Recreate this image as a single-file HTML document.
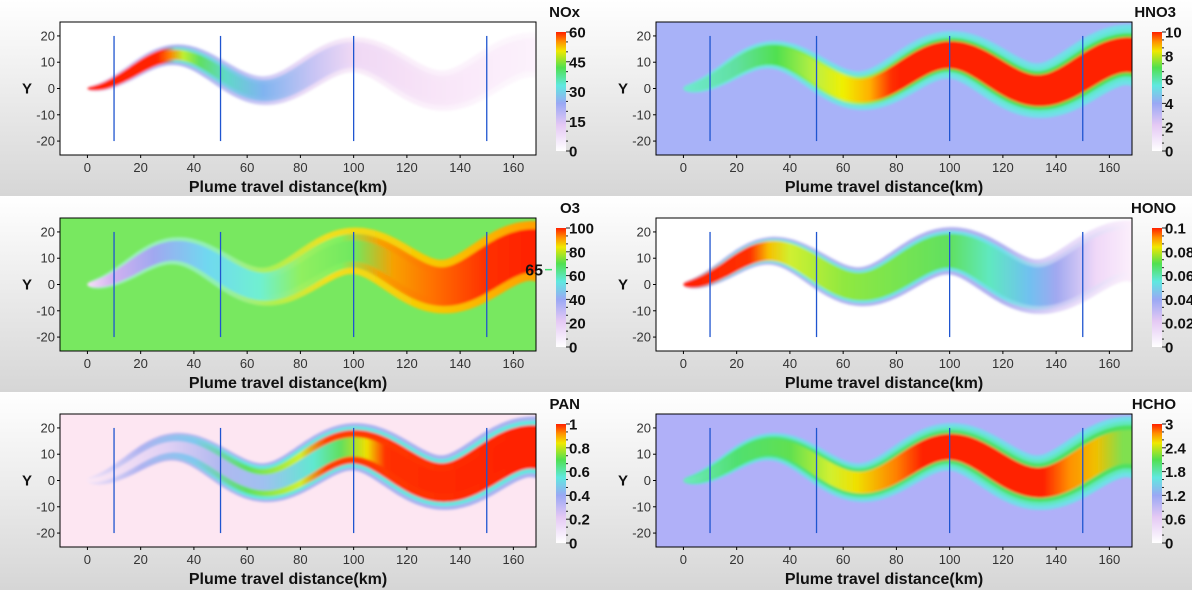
<!DOCTYPE html>
<html><head><meta charset="utf-8"><style>
html,body{margin:0;padding:0;background:#fff;}
svg{display:block;}
text{font-family:"Liberation Sans",sans-serif;}
</style></head><body>
<div id="c"></div>
<script>
const L=60,W=476,T=22,H=133;
function px(x){return L+(x+10.3)/178.8*W;}
function py(y){return T+(25.3-y)/50.6*H;}
function cl(x){let c=6+6.8*Math.sin(2*Math.PI*(x-16.25)/67);if(x<16)c+=(1-x/16)*0.8;return c;}
const P=[
{ox:0,oy:0,name:'NOx',lab:['60','45','30','15','0'],bg:'#ffffff',ws:0.72,layers:[
 {f:1.15,s:[[0,'#f0e0f8'],[20,'#c8c0f4'],[33,'#a8b0f0'],[60,'#c0c0f4'],[80,'#e8d8f6'],[100,'#f8eaf8'],[140,'#fcf2fc'],[168,'#fdf8fd']]},
 {f:0.85,s:[[0,'#ff2000'],[28,'#ff3000'],[33,'#70e0d0'],[45,'#70d8e0'],[66,'#88b8f0'],[85,'#c8c4f4'],[100,'#f0daf6'],[130,'#f8e6f8'],[168,'#fcf2fc']]},
 {f:0.55,s:[[0,'#ff2000'],[26,'#ff2000'],[31,'#ff8000'],[36,'#c0f030'],[42,'#60e060'],[52,'#60d8c8'],[66,'#80b4f0'],[85,'#c8c4f4'],[100,'#f0d8f4'],[130,'#f8e4f8'],[168,'#fcf2fc']]}]},
{ox:596,oy:0,name:'HNO3',lab:['10','8','6','4','2','0'],bg:'#a8b2f8',ws:1,layers:[
 {f:1.12,s:[[0,'#80d8f0'],[168,'#70e0e8']]},
 {f:0.95,s:[[0,'#70e8d0'],[168,'#60e8d0']]},
 {f:0.8,s:[[0,'#70e8d0'],[20,'#60e0a0'],[35,'#50e050'],[50,'#a0f040'],[60,'#d0f030'],[75,'#80e040'],[85,'#50e050'],[168,'#50e050']]},
 {f:0.65,s:[[0,'#70e8d0'],[20,'#60e0a0'],[35,'#50e050'],[50,'#c0f040'],[60,'#f0f000'],[70,'#ffb000'],[78,'#ff3000'],[82,'#ff2000'],[168,'#ff2000']]}]},
{ox:0,oy:196,name:'O3',lab:['100','80','60','40','20','0'],bg:'#78e860',ws:1,layers:[
 {f:1.1,s:[[0,'#a0f0c0'],[50,'#90f0b0'],[70,'#b0f050'],[90,'#f0e020'],[130,'#f8c800'],[168,'#ffa000']]},
 {f:0.8,s:[[0,'#f8e0f8'],[10,'#d0b0f0'],[25,'#a0a8f0'],[45,'#70d8f0'],[65,'#70f0d0'],[80,'#a0f060'],[95,'#80f060'],[110,'#f8a000'],[130,'#ff7000'],[150,'#ff3000'],[168,'#ff2000']]},
 {f:0.5,s:[[0,'#f8e0f8'],[10,'#d0b0f0'],[25,'#a0a8f0'],[45,'#70d8f0'],[65,'#70f0d0'],[80,'#90f060'],[100,'#70e860'],[115,'#f8a000'],[130,'#ff7000'],[150,'#ff3000'],[168,'#ff2000']]}]},
{ox:596,oy:196,name:'HONO',lab:['0.1','0.08','0.06','0.04','0.02','0'],bg:'#ffffff',ws:1,layers:[
 {f:1.12,s:[[0,'#e0d0f4'],[15,'#b0b0f0'],[120,'#b0b0f0'],[140,'#e0d4f8'],[168,'#fbeefb']]},
 {f:0.95,s:[[0,'#ff4000'],[15,'#70e8e0'],[120,'#70e0e8'],[140,'#c8c8f4'],[168,'#fbeefb']]},
 {f:0.8,s:[[0,'#ff2000'],[25,'#ff3000'],[32,'#f8c000'],[40,'#d0f030'],[60,'#90e840'],[100,'#60e060'],[115,'#60e8c0'],[130,'#70c0f0'],[140,'#a0a8f0'],[155,'#f0d8f8'],[168,'#fbeefb']]}]},
{ox:0,oy:392,name:'PAN',lab:['1','0.8','0.6','0.4','0.2','0'],bg:'#fde6f2',ws:1,layers:[
 {f:1.12,s:[[0,'#f4e4f8'],[20,'#c0b8f0'],[60,'#a8b0f0'],[168,'#a8b0f0']]},
 {f:0.97,s:[[0,'#f0e0f8'],[20,'#a8b0f0'],[60,'#60e8e0'],[168,'#60e8e0']]},
 {f:0.8,s:[[0,'#f8e8f8'],[20,'#b0b4f0'],[40,'#80c8f0'],[60,'#60e060'],[80,'#d0f030'],[90,'#ff4000'],[168,'#ff2000']]},
 {f:0.45,s:[[0,'#fde8f4'],[30,'#e0d0f4'],[50,'#b0b8f0'],[66,'#a0c0f0'],[85,'#60e8d0'],[95,'#60e060'],[105,'#f0e000'],[112,'#ff3000'],[168,'#ff2000']]}]},
{ox:596,oy:392,name:'HCHO',lab:['3','2.4','1.8','1.2','0.6','0'],bg:'#b0b0f8',ws:1,layers:[
 {f:1.12,s:[[0,'#80d0f0'],[168,'#70e0e8']]},
 {f:0.95,s:[[0,'#60e8c0'],[168,'#60e8c0']]},
 {f:0.8,s:[[0,'#60e8a0'],[20,'#50e070'],[168,'#50e060']]},
 {f:0.62,s:[[0,'#70e8c0'],[20,'#50e070'],[40,'#60e050'],[55,'#d0f030'],[65,'#f0e000'],[80,'#ff8000'],[90,'#ff2000'],[135,'#ff2000'],[145,'#ff9000'],[155,'#f0c000'],[165,'#80e050']]}]}
];
let defs='',body='';
defs+=`<linearGradient id="pbg" x1="0" y1="0" x2="0" y2="1"><stop offset="0" stop-color="#ffffff"/><stop offset="1" stop-color="#d6d6d6"/></linearGradient>`;
defs+=`<linearGradient id="cb" x1="0" y1="0" x2="0" y2="1"><stop offset="0" stop-color="#ff2000"/><stop offset="0.08" stop-color="#ff9000"/><stop offset="0.16" stop-color="#f0e800"/><stop offset="0.3" stop-color="#50e050"/><stop offset="0.45" stop-color="#60e8e0"/><stop offset="0.6" stop-color="#9aa8f4"/><stop offset="0.78" stop-color="#e4c8f4"/><stop offset="1" stop-color="#ffffff"/></linearGradient>`;
defs+=`<clipPath id="bx"><rect x="${L}" y="${T}" width="${W}" height="${H}"/></clipPath>`;
defs+=`<filter id="bl" x="-5%" y="-20%" width="110%" height="140%"><feGaussianBlur stdDeviation="1.3"/></filter>`;
P.forEach((p,i)=>{
 let g=`<g transform="translate(${p.ox},${p.oy})">`;
 g+=`<rect x="0" y="0" width="596" height="${i>=4?198:196}" fill="url(#pbg)"/>`;
 g+=`<rect x="${L}" y="${T}" width="${W}" height="${H}" fill="${p.bg}"/>`;
 g+=`<g clip-path="url(#bx)"><g filter="url(#bl)">`;
 const pts=[];
 for(let x=0;x<=172;x+=0.5){pts.push([px(x),py(cl(x)),x]);}
 p.layers.forEach((ly,j)=>{
  const id=`g${i}_${j}`;
  defs+=`<linearGradient id="${id}" gradientUnits="userSpaceOnUse" x1="${L}" y1="0" x2="${L+W}" y2="0">`+ly.s.map(s=>`<stop offset="${((px(s[0])-L)/W).toFixed(4)}" stop-color="${s[1]}"/>`).join('')+`</linearGradient>`;
  const up=[],dn=[];
  for(let k=0;k<pts.length;k++){
   const a=pts[Math.max(0,k-1)],b=pts[Math.min(pts.length-1,k+1)];
   let dx=b[0]-a[0],dy=b[1]-a[1];const n=Math.hypot(dx,dy)||1;dx/=n;dy/=n;
   const x=pts[k][2];
   const w=(0.25+0.78*Math.sqrt(x))*p.ws*ly.f*2.63;
   up.push([pts[k][0]+dy*w,pts[k][1]-dx*w]);dn.push([pts[k][0]-dy*w,pts[k][1]+dx*w]);
  }
  const poly=up.concat(dn.reverse()).map(q=>q[0].toFixed(1)+','+q[1].toFixed(1)).join(' ');
  g+=`<polygon points="${poly}" fill="url(#${id})"/>`;
 });
 g+=`</g>`;
 [10,50,100,150].forEach(x=>{g+=`<line x1="${px(x)}" y1="${py(20)}" x2="${px(x)}" y2="${py(-20)}" stroke="#1f55d0" stroke-width="1.3"/>`;});
 g+=`</g>`;
 g+=`<rect x="${L}" y="${T}" width="${W}" height="${H}" fill="none" stroke="#000" stroke-width="1"/>`;
 for(let x=0;x<=160;x+=20){g+=`<line x1="${px(x)}" y1="${T+H}" x2="${px(x)}" y2="${T+H+3}" stroke="#000"/><text x="${px(x)}" y="${T+H+17}" font-size="13" fill="#333" text-anchor="middle">${x}</text>`;}
 for(let y=-20;y<=20;y+=10){g+=`<line x1="${L-3}" y1="${py(y)}" x2="${L}" y2="${py(y)}" stroke="#000"/><text x="${L-5}" y="${py(y)+4.5}" font-size="13" fill="#333" text-anchor="end">${y}</text>`;}
 g+=`<text x="27" y="${py(0)+5}" font-size="15" font-weight="bold" text-anchor="middle" fill="#111">Y</text>`;
 g+=`<text x="288" y="192" font-size="16" font-weight="bold" text-anchor="middle" fill="#111">Plume travel distance(km)</text>`;
 g+=`<text x="580" y="17" font-size="15" font-weight="bold" text-anchor="end" fill="#111">${p.name}</text>`;
 const cbT=32,cbB=151;
 g+=`<rect x="556" y="${cbT}" width="10" height="${cbB-cbT}" fill="url(#cb)"/>`;
 const n=p.lab.length-1;
 for(let k=0;k<=n*3;k++){const y=cbT+(cbB-cbT)*k/(n*3);g+=`<line x1="566" y1="${y}" x2="${k%3==0?570:568}" y2="${y}" stroke="#222"/>`;}
 p.lab.forEach((t,k)=>{const y=cbT+(cbB-cbT)*k/n;g+=`<text x="569" y="${y+5.5}" font-size="15" font-weight="bold" fill="#111">${t}</text>`;});
 if(p.name==='O3'){const y=cbT+(cbB-cbT)*0.35;g+=`<line x1="545" y1="${y}" x2="552" y2="${y}" stroke="#40e070" stroke-width="1.5"/><text x="543" y="${y+6}" font-size="16" font-weight="bold" text-anchor="end" fill="#111">65</text>`;}
 g+=`</g>`;
 body+=g;
});
document.getElementById('c').innerHTML=`<svg xmlns="http://www.w3.org/2000/svg" width="1192" height="590" viewBox="0 0 1192 590"><defs>${defs}</defs>${body}</svg>`;
</script>
</body></html>
